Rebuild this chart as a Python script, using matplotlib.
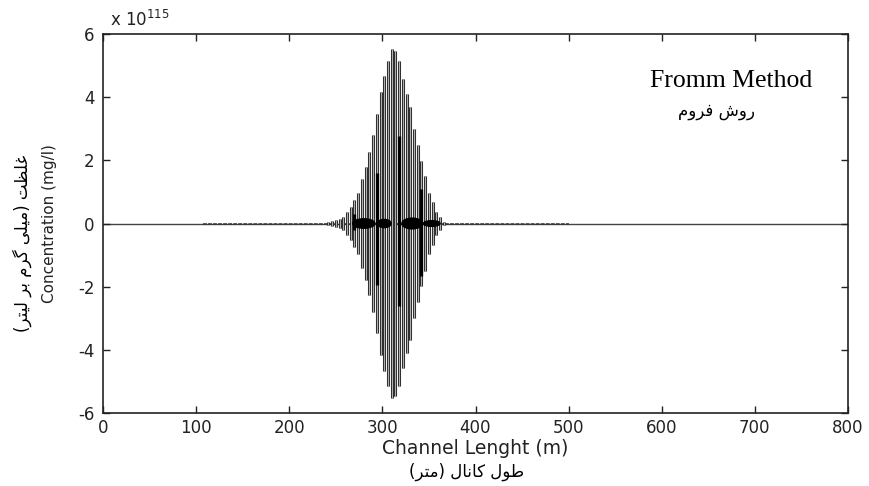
import matplotlib
matplotlib.use("Agg")
import matplotlib.pyplot as plt
from matplotlib.patches import Ellipse

plt.rcParams['font.family'] = ['DejaVu Sans']
plt.rcParams['mathtext.default'] = 'regular'
plt.rcParams['axes.unicode_minus'] = False

# oscillation bars (channel length in m, amplitude in units of 1e115 mg/l)
bar_pos = [242, 246, 250, 254, 258, 262, 266, 270, 274, 278, 282, 286, 290, 294, 298, 302,
           306, 310, 314, 318, 322, 326, 330, 334, 338, 342, 346, 350, 354, 358, 362, 366]
bar_amp = [0.04, 0.07, 0.10, 0.15, 0.22, 0.35, 0.52, 0.75, 0.98, 1.40, 1.78, 2.25, 2.80, 3.46, 4.15, 4.67,
           5.14, 5.52, 5.46, 5.14, 4.57, 4.10, 3.68, 2.98, 2.50, 1.97, 1.49, 0.98, 0.67, 0.35, 0.19, 0.06]

# darker single spikes
dark_pos = [270, 294, 318, 342]
dark_top = [0.29, 1.61, 2.77, 1.08]
dark_bot = [-0.19, -1.94, -2.62, -1.67]

# dense small oscillation clusters near zero
blob_mid = [280, 302, 332, 353]
blob_len = [24, 15, 22, 18]
blob_half = [0.15, 0.13, 0.17, 0.09]

noise_range = [107, 500]
x_ticks = [0, 100, 200, 300, 400, 500, 600, 700, 800]
y_ticks = [-6, -4, -2, 0, 2, 4, 6]

fig = plt.figure(figsize=(8.69, 4.86), dpi=100)
ax = fig.add_axes([103/869, 1 - 413/486, 745/869, 379/486])

# zero line and fine numerical noise along it
ax.plot([x_ticks[0], x_ticks[-1]], [0, 0], color='#444444', lw=1.0, zorder=1)
ax.plot(noise_range, [0, 0], color='#333333', lw=1.1, dashes=(2.5, 0.8), zorder=2)

neg_amp = [-a for a in bar_amp]
ax.vlines(bar_pos, neg_amp, bar_amp, color='#111111', lw=2.2, zorder=3)
ax.vlines(bar_pos, neg_amp, bar_amp, color='#b0b0b0', lw=1.0, zorder=4)
ax.vlines(dark_pos, dark_bot, dark_top, color='black', lw=2.4, zorder=5)

for m, l, h in zip(blob_mid, blob_len, blob_half):
    ax.add_patch(Ellipse((m, 0), l, 2 * h, color='black', zorder=6))

ax.set_xlim(0, 800)
ax.set_ylim(-6, 6)
ax.set_xticks(x_ticks)
ax.set_yticks(y_ticks)
ax.tick_params(direction='in', top=True, right=True, length=5, width=1,
               labelsize=12, colors='#222222')
ax.tick_params(axis='x', pad=4)
ax.tick_params(axis='y', pad=6)
for s in ax.spines.values():
    s.set_linewidth(1.2)
    s.set_color('#222222')

fig.text(110/869, 1 - 26/486, 'x 10$^{115}$', fontsize=12, color='#222222')

ax.set_xlabel('Channel Lenght (m)', fontsize=13.5, color='#222222', labelpad=2)
ax.set_ylabel('Concentration (mg/l)', fontsize=11, color='#222222', labelpad=15)

# Persian labels, shaped glyphs in visual order
fa_x = '(\uFEAE\uFE98\uFEE3) \uFEDD\uFE8E\uFEE7\uFE8E\uFB90 \uFEDD\uFEEE\uFEC3'
fa_y = ('(\uFEAE\uFE98\uFBFF\uFEDF \uFEAE\uFE91 \uFEE1\uFEAE\uFB94 '
        '\uFBFD\uFEE0\uFBFF\uFEE3) \uFE96\uFEC8\uFEE0\uFECF')
fa_title = '\uFEE1\uFEED\uFEAE\uFED3 \uFEB5\uFEED\uFEAD'

fig.text(467/869, 1 - 472/486, fa_x, fontsize=12, ha='center', va='center')
fig.text(22/869, 1 - 243/486, fa_y, fontsize=12, ha='center', va='center', rotation=90)

fig.text(731/869, 1 - 87/486, 'Fromm Method', fontsize=18.5, family='Liberation Serif',
         ha='center', va='baseline')
fig.text(717/869, 1 - 111/486, fa_title, fontsize=12, ha='center', va='center')

fig.savefig('out.png', dpi=100)
